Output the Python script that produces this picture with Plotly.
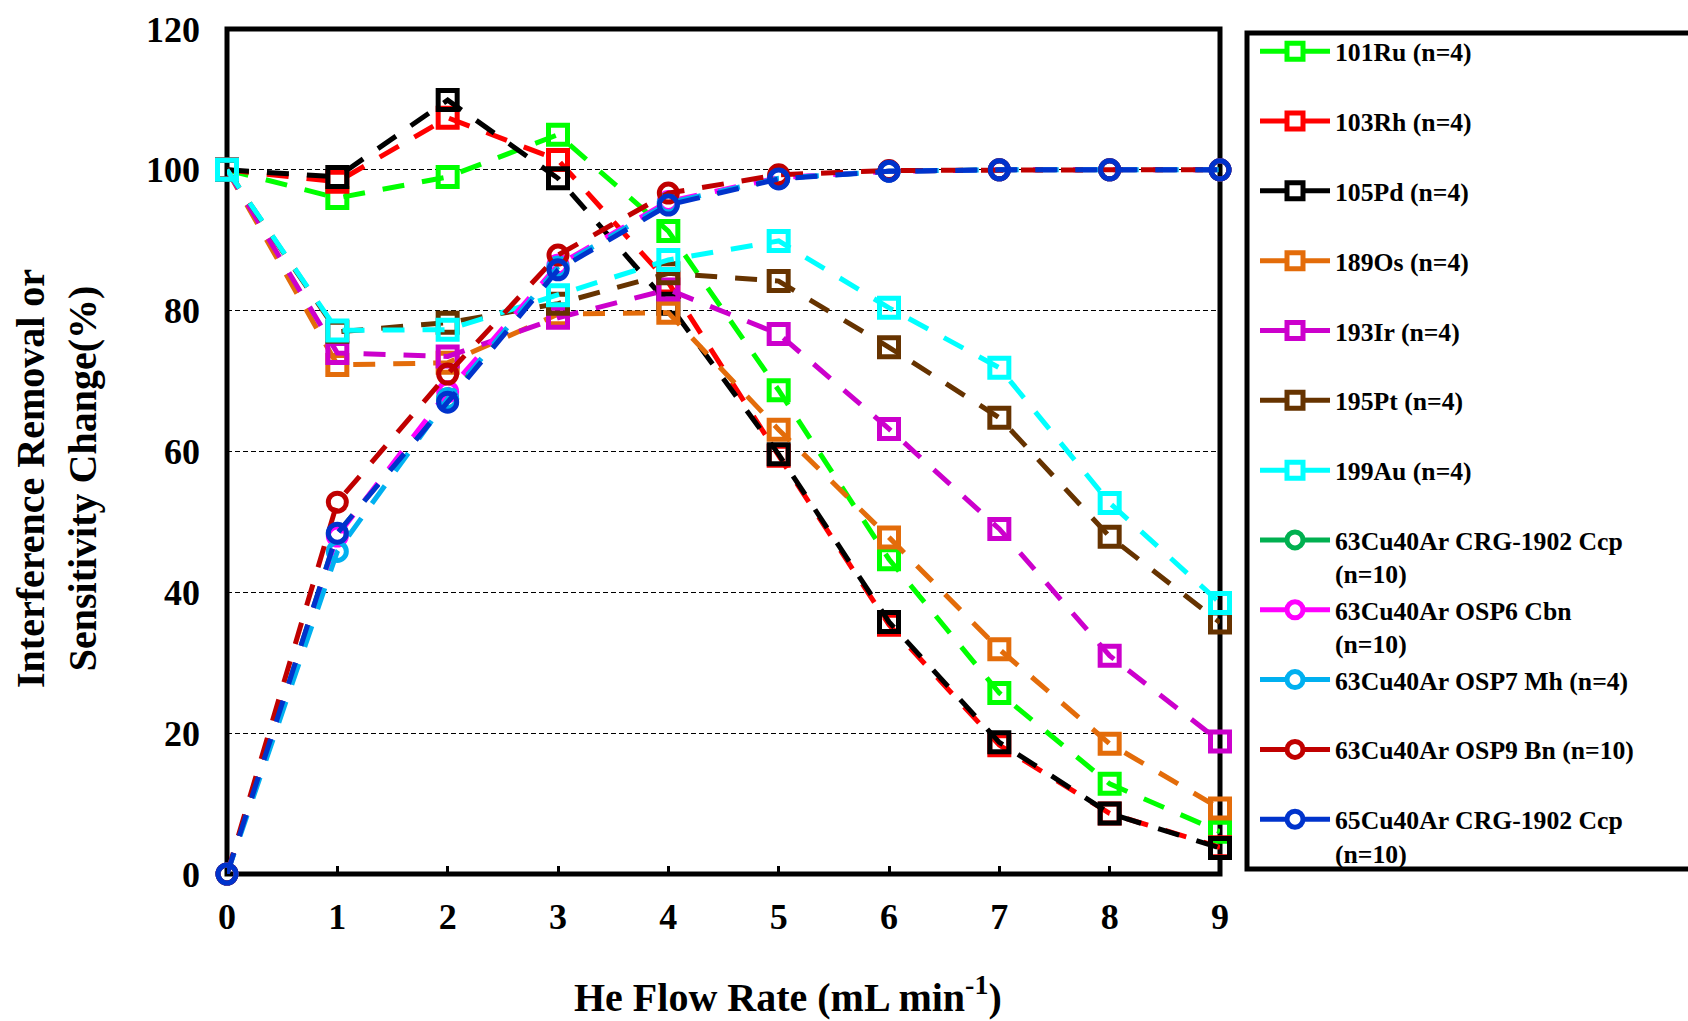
import plotly.graph_objects as go

# ---------------- data ----------------
flow_rate = [0, 1, 2, 3, 4, 5, 6, 7, 8, 9]

ru101 = [100, 96.0, 99.0, 105.0, 91.3, 68.7, 44.7, 25.7, 12.8, 6.0]
rh103 = [100, 98.3, 107.4, 101.4, 84.0, 59.4, 35.4, 18.3, 8.6, 3.8]
pd105 = [100, 99.0, 109.9, 98.8, 81.0, 59.6, 35.8, 18.7, 8.6, 3.7]
os189 = [100, 72.3, 72.6, 79.5, 79.7, 63.1, 47.8, 31.9, 18.5, 9.3]
ir193 = [100, 74.0, 73.5, 79.0, 83.0, 76.7, 63.2, 49.0, 31.0, 18.8]
pt195 = [100, 77.0, 78.3, 81.0, 85.3, 84.2, 74.8, 64.8, 47.9, 35.7]
au199 = [100, 77.2, 77.3, 82.2, 87.2, 89.9, 80.4, 71.9, 52.7, 38.5]
cu63_crg1902 = [0, 48.3, 67.5, 86.0, 95.2, 98.8, 99.8, 100, 100, 100]
cu63_osp6 = [0, 48.0, 68.5, 86.5, 95.5, 98.9, 99.8, 100, 100, 100]
cu63_osp7 = [0, 45.8, 67.5, 86.2, 95.3, 98.8, 99.8, 100, 100, 100]
cu63_osp9 = [0, 52.8, 71.0, 87.9, 96.7, 99.3, 99.9, 100, 100, 100]
cu65_crg1902 = [0, 48.4, 67.0, 85.8, 95.0, 98.7, 99.8, 100, 100, 100]

series_names = [
    "101Ru (n=4)", "103Rh (n=4)", "105Pd (n=4)", "189Os (n=4)",
    "193Ir (n=4)", "195Pt (n=4)", "199Au (n=4)",
    "63Cu40Ar CRG-1902 Ccp<br>(n=10)", "63Cu40Ar OSP6 Cbn<br>(n=10)",
    "63Cu40Ar OSP7 Mh (n=4)", "63Cu40Ar OSP9 Bn (n=10)",
    "65Cu40Ar CRG-1902 Ccp<br>(n=10)",
]
series_values = [ru101, rh103, pd105, os189, ir193, pt195, au199,
                 cu63_crg1902, cu63_osp6, cu63_osp7, cu63_osp9, cu65_crg1902]
series_colors = ["#00FF00", "#FF0000", "#000000", "#E36C0A", "#CC00CC",
                 "#663300", "#00FFFF", "#00B050", "#FF00FF", "#00B0F0",
                 "#C00000", "#0033CC"]
series_symbols = ["square"] * 7 + ["circle"] * 5

y_ticks = [0, 20, 40, 60, 80, 100, 120]
x_ticks = [0, 1, 2, 3, 4, 5, 6, 7, 8, 9]

# ---------------- layout geometry (px) ----------------
W, H = 1688, 1021
PL, PR, PT, PB = 227, 1220, 29, 874
pw, ph = PR - PL, PB - PT


def px_x(p):
    return (p - PL) / pw


def px_y(p):
    return (PB - p) / ph


FONT = "Liberation Serif"

fig = go.Figure()

# data traces
for name, ys, col, sym in zip(series_names, series_values, series_colors, series_symbols):
    fig.add_trace(go.Scatter(
        x=flow_rate, y=ys, mode="lines+markers", showlegend=False,
        line=dict(color=col, width=5, dash="22px,18px"),
        marker=dict(symbol=sym + "-open", size=19 if sym == "square" else 18,
                    color=col, line=dict(width=5, color=col)),
        cliponaxis=False, hoverinfo="skip",
    ))

# legend entries (solid line + white-filled marker, as in the reference legend)
for i, (name, col, sym) in enumerate(zip(series_names, series_colors, series_symbols)):
    label = name if "<br>" in name else name + "<br>\u00a0"
    fig.add_trace(go.Scatter(
        x=[None], y=[None], mode="lines+markers", name=label,
        legendgroup="g%d" % i,
        line=dict(color=col, width=5),
        marker=dict(symbol=sym, size=17, color="white", line=dict(width=5, color=col)),
    ))

fig.update_layout(
    width=W, height=H,
    margin=dict(l=PL, r=W - PR, t=PT, b=H - PB, autoexpand=False),
    paper_bgcolor="white", plot_bgcolor="white",
    font=dict(family=FONT, color="black", weight="bold"),
    showlegend=True,
    legend=dict(
        x=px_x(1255), y=px_y(28), xanchor="left", yanchor="top",
        bgcolor="rgba(0,0,0,0)", borderwidth=0,
        font=dict(family=FONT, size=25.7, color="black", weight="bold"),
        valign="top", itemwidth=70, traceorder="grouped", tracegroupgap=0,
        maxheight=1000,
    ),
    xaxis=dict(
        range=[0, 9], tickvals=x_ticks, ticktext=[str(v) for v in x_ticks],
        showgrid=False, zeroline=False, showline=False,
        ticks="inside", ticklen=8, tickwidth=3, tickcolor="black",
        tickfont=dict(family=FONT, size=36, color="black", weight="bold"),
        ticklabelstandoff=18, layer="below traces",
    ),
    yaxis=dict(
        range=[0, 120], tickvals=y_ticks, ticktext=[str(v) for v in y_ticks],
        showgrid=True, gridcolor="black", gridwidth=1, griddash="5px,3px",
        zeroline=False, showline=False,
        ticks="",
        tickfont=dict(family=FONT, size=36, color="black", weight="bold"),
        ticklabelstandoff=26, layer="below traces",
    ),
    shapes=[
        # plot frame
        dict(type="rect", xref="paper", yref="paper", x0=0, x1=1, y0=0, y1=1,
             line=dict(color="black", width=5), fillcolor="rgba(0,0,0,0)", layer="below"),
        # legend frame
        dict(type="rect", xref="paper", yref="paper",
             x0=px_x(1247), x1=px_x(1720), y0=px_y(869), y1=px_y(33),
             line=dict(color="black", width=5), fillcolor="rgba(0,0,0,0)", layer="below"),
    ],
    annotations=[
        dict(text="He Flow Rate (mL min<sup>-1</sup>)", xref="paper", yref="paper",
             x=px_x(788), y=px_y(994), xanchor="center", yanchor="middle",
             showarrow=False, font=dict(family=FONT, size=40, color="black", weight="bold")),
        dict(text="Interference Removal or<br>Sensitivity Change(%)", xref="paper", yref="paper",
             x=px_x(56), y=px_y(479), xanchor="center", yanchor="middle", textangle=-90,
             showarrow=False, font=dict(family=FONT, size=40, color="black", weight="bold")),
    ],
)

fig.write_html("out.html")
